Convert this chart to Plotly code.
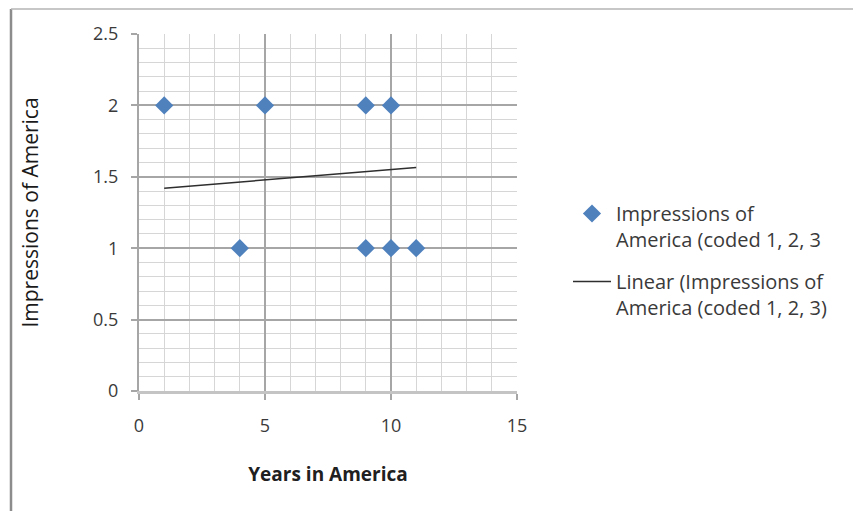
import plotly.graph_objects as go

# Data
years = [1, 4, 5, 9, 10, 9, 10, 11]
impressions = [2, 1, 2, 2, 2, 1, 1, 1]
trend_years = [1, 11]
trend_values = [1.42, 1.565]

x_ticks = [0, 5, 10, 15]
y_ticks = [0, 0.5, 1, 1.5, 2, 2.5]

# page body has an 8px margin; work in screen pixels then convert
OFF = 8
W, H = 853, 503
FONT = "Open Sans"


def px(x):
    return (x - OFF) / W


def py(y):
    return (H - (y - OFF)) / H


fig = go.Figure()
fig.add_trace(go.Scatter(
    x=years, y=impressions, mode="markers",
    name="Impressions of<br>America (coded 1, 2, 3",
    legendgroup="a",
    marker=dict(symbol="diamond", size=14, color="#4F81BD"),
))
fig.add_trace(go.Scatter(
    x=trend_years, y=trend_values, mode="lines",
    name="Linear (Impressions of<br>America (coded 1, 2, 3)",
    legendgroup="b",
    line=dict(color="#2e2e2e", width=1.5),
))

fig.update_layout(
    width=W, height=H,
    margin=dict(l=0, r=0, t=0, b=0),
    paper_bgcolor="white", plot_bgcolor="white",
    font=dict(family=FONT, size=18, color="#3a3a3a"),
    showlegend=True,
    legend=dict(
        x=px(568), y=py(194), xanchor="left", yanchor="top",
        valign="top", tracegroupgap=13, itemwidth=38,
        font=dict(family=FONT, size=20, color="#3a3a3a"),
        bgcolor="rgba(0,0,0,0)",
    ),
    xaxis=dict(
        domain=[px(139), px(517)], range=[0, 15],
        tickvals=x_ticks, ticktext=[str(v) for v in x_ticks],
        showgrid=True, gridcolor="#A6A6A6", gridwidth=1.5,
        minor=dict(dtick=1, showgrid=True, gridcolor="#D6D6D6", gridwidth=1.2),
        showline=True, linecolor="#C4C4C4", linewidth=3,
        ticks="outside", ticklen=6, tickcolor="#A6A6A6", tickwidth=1.5,
        ticklabelstandoff=10,
        zeroline=False, automargin=False,
        title=dict(text="<b>Years in America</b>", font=dict(family=FONT, size=19, color="#202020"), standoff=33),
    ),
    yaxis=dict(
        domain=[py(391), py(34)], range=[0, 2.5],
        tickvals=y_ticks, ticktext=["0", "0.5", "1", "1.5", "2", "2.5"],
        showgrid=True, gridcolor="#A6A6A6", gridwidth=1.5,
        minor=dict(dtick=0.1, showgrid=True, gridcolor="#D6D6D6", gridwidth=1.2),
        showline=True, linecolor="#A6A6A6", linewidth=2,
        ticks="outside", ticklen=6, tickcolor="#A6A6A6", tickwidth=1.5,
        ticklabelstandoff=9,
        zeroline=False, automargin=False,
        title=dict(text="Impressions of America", font=dict(family=FONT, size=21, color="#1a1a1a"), standoff=49),
    ),
    shapes=[
        dict(type="line", xref="paper", yref="paper", x0=px(11), x1=px(11), y0=-0.1, y1=py(9),
             line=dict(color="#8c8c8c", width=2.5)),
        dict(type="line", xref="paper", yref="paper", x0=px(11), x1=px(858), y0=py(9), y1=py(9),
             line=dict(color="#b4b4b4", width=1.5)),
        dict(type="line", xref="paper", yref="paper", x0=px(858), x1=px(858), y0=-0.1, y1=py(9),
             line=dict(color="#c0c0c0", width=2.5)),
    ],
)

fig.write_html("out.html")
